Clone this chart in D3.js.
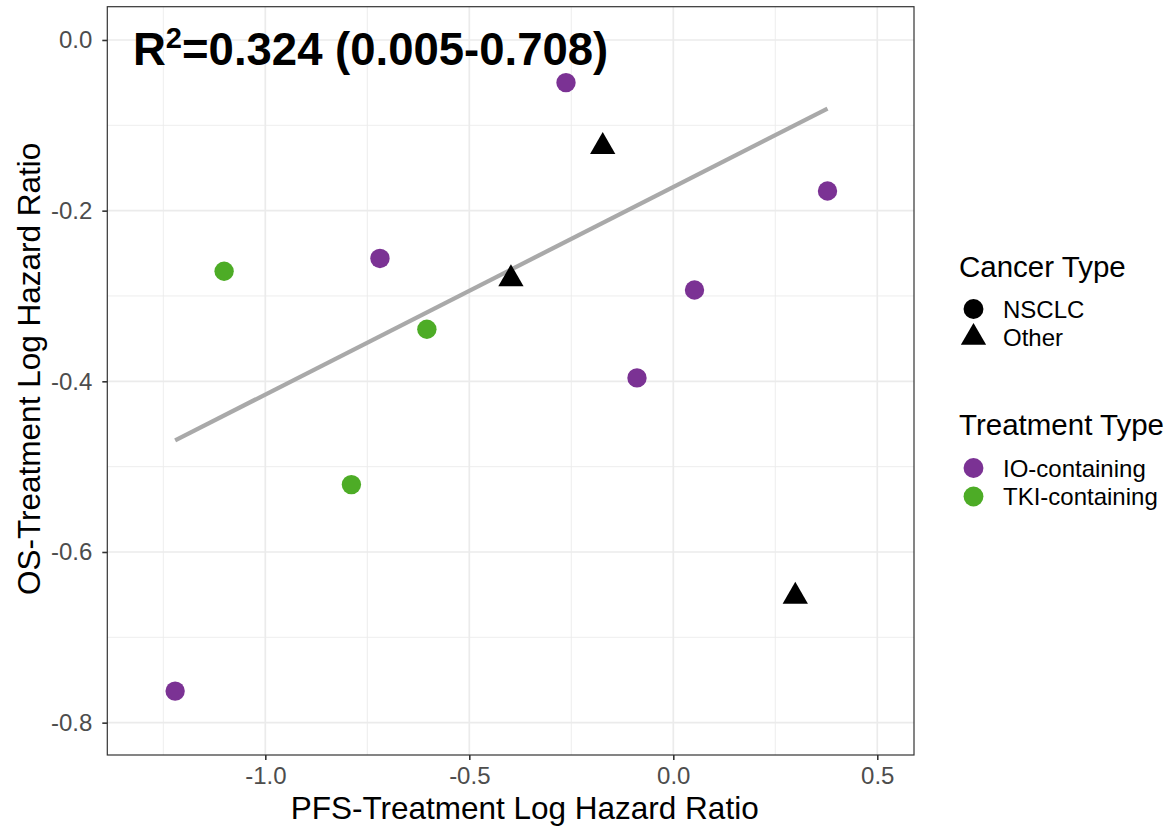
<!DOCTYPE html>
<html>
<head>
<meta charset="utf-8">
<script src="https://cdn.jsdelivr.net/npm/d3@7"></script>
<style>
  body { margin: 0; background: #fff; }
  text { font-family: "Liberation Sans", Arial, Helvetica, sans-serif; }
</style>
</head>
<body>
<svg id="chart"></svg>
<script>
(function () {
var width = 1170, height = 826

// values
var pfs = [-1.221, -1.101, -0.719, -0.604, -0.789, -0.263, -0.173, -0.398, 0.052, 0.378, -0.089, 0.299]
var os = [-0.763, -0.271, -0.256, -0.339, -0.521, -0.050, -0.125, -0.280, -0.293, -0.177, -0.396, -0.652]
var cancer = ['NSCLC', 'NSCLC', 'NSCLC', 'NSCLC', 'NSCLC', 'NSCLC', 'Other', 'Other', 'NSCLC', 'NSCLC', 'NSCLC', 'Other']
var treatment = ['IO-containing', 'TKI-containing', 'IO-containing', 'TKI-containing', 'TKI-containing', 'IO-containing', null, null, 'IO-containing', 'IO-containing', 'IO-containing', null]

var xTicks = [-1.0, -0.5, 0.0, 0.5]
var yTicks = [0.0, -0.2, -0.4, -0.6, -0.8]
var xMinor = [-1.25, -0.75, -0.25, 0.25]
var yMinor = [-0.1, -0.3, -0.5, -0.7]

// fitted line shown on the chart (weighted fit)
var fitSlope = 0.2432, fitIntercept = -0.1723
var r2Label = '0.324 (0.005-0.708)'

var cancerTypes = ['NSCLC', 'Other']
var treatmentTypes = ['IO-containing', 'TKI-containing']
var treatmentColors = ['#7b3294', '#4dac26']

var points = pfs.map((d, i) => ({x: d, y: os[i], cancer: cancer[i], treatment: treatment[i]}))

var svg = d3.select('#chart')
    .attr('width', width)
    .attr('height', height)

svg.append('rect').attr('width', width).attr('height', height).attr('fill', '#fff')

var panel = {left: 107.3, right: 914, top: 6.7, bottom: 755}
var titleSize = 31.5, legendTitleSize = 29.5, textSize = 24

var x = d3.scaleLinear().domain([-1.3873, 0.590]).range([panel.left, panel.right])
var y = d3.scaleLinear().domain([0.039, -0.8379]).range([panel.top, panel.bottom])

var color = d3.scaleOrdinal().domain(treatmentTypes).range(treatmentColors).unknown('#000')
var shape = d3.scaleOrdinal().domain(cancerTypes).range([d3.symbolCircle, d3.symbolTriangle])

var fmt = (d) => d.toFixed(1)

// grid
var grid = svg.append('g')
grid.selectAll('.xminor').data(xMinor).enter().append('line')
    .attr('x1', (d) => x(d)).attr('x2', (d) => x(d))
    .attr('y1', panel.top).attr('y2', panel.bottom)
    .attr('stroke', '#ebebeb').attr('stroke-width', 0.9)
grid.selectAll('.yminor').data(yMinor).enter().append('line')
    .attr('y1', (d) => y(d)).attr('y2', (d) => y(d))
    .attr('x1', panel.left).attr('x2', panel.right)
    .attr('stroke', '#ebebeb').attr('stroke-width', 0.9)
grid.selectAll('.xmajor').data(xTicks).enter().append('line')
    .attr('x1', (d) => x(d)).attr('x2', (d) => x(d))
    .attr('y1', panel.top).attr('y2', panel.bottom)
    .attr('stroke', '#ebebeb').attr('stroke-width', 1.7)
grid.selectAll('.ymajor').data(yTicks).enter().append('line')
    .attr('y1', (d) => y(d)).attr('y2', (d) => y(d))
    .attr('x1', panel.left).attr('x2', panel.right)
    .attr('stroke', '#ebebeb').attr('stroke-width', 1.7)

// fit line over the data range
var xr = d3.extent(pfs)
svg.append('line')
    .attr('x1', x(xr[0])).attr('y1', y(fitIntercept + fitSlope * xr[0]))
    .attr('x2', x(xr[1])).attr('y2', y(fitIntercept + fitSlope * xr[1]))
    .attr('stroke', '#a9a9a9').attr('stroke-width', 4.3)

// points
svg.append('g').selectAll('path').data(points).enter().append('path')
    .attr('transform', (d) => 'translate(' + x(d.x) + ',' + y(d.y) + ')')
    .attr('d', (d) => d3.symbol().type(shape(d.cancer)).size(d.cancer == 'Other' ? 277 : 295)())
    .attr('fill', (d) => color(d.treatment))

// panel border
svg.append('rect')
    .attr('x', panel.left).attr('y', panel.top)
    .attr('width', panel.right - panel.left).attr('height', panel.bottom - panel.top)
    .attr('fill', 'none').attr('stroke', '#333').attr('stroke-width', 1.2)

// axes
var xAxis = svg.append('g')
    .attr('transform', 'translate(0,' + panel.bottom + ')')
    .call(d3.axisBottom(x).tickValues(xTicks).tickFormat(fmt).tickSize(5).tickPadding(7))
var yAxis = svg.append('g')
    .attr('transform', 'translate(' + panel.left + ',0)')
    .call(d3.axisLeft(y).tickValues(yTicks).tickFormat(fmt).tickSize(5).tickPadding(10))
;[xAxis, yAxis].forEach(function (a) {
    a.select('.domain').remove()
    a.selectAll('line').attr('stroke', '#333').attr('stroke-width', 1.6)
    a.selectAll('text').attr('fill', '#4d4d4d').style('font-size', textSize + 'px')
        .style('font-family', '"Liberation Sans", Arial, sans-serif')
})

// axis titles
svg.append('text')
    .attr('x', (panel.left + panel.right) / 2 + 14).attr('y', 819)
    .attr('text-anchor', 'middle').style('font-size', titleSize + 'px').attr('fill', '#000')
    .text('PFS-Treatment Log Hazard Ratio')
svg.append('text')
    .attr('transform', 'translate(40,' + ((panel.top + panel.bottom) / 2 - 12) + ') rotate(-90)')
    .attr('text-anchor', 'middle').style('font-size', titleSize + 'px').attr('fill', '#000')
    .text('OS-Treatment Log Hazard Ratio')

// R squared label
var r2 = svg.append('text')
    .attr('x', 133).attr('y', 65)
    .style('font-size', '45.5px').style('font-weight', 'bold').attr('fill', '#000')
r2.append('tspan').text('R')
r2.append('tspan').attr('dy', -17).style('font-size', '29px').text('2')
r2.append('tspan').attr('dy', 17).text('=' + r2Label)

// legends
var leg = svg.append('g').attr('transform', 'translate(959,0)')
leg.append('text').attr('x', 0).attr('y', 277).style('font-size', legendTitleSize + 'px').text('Cancer Type')
var lc = leg.selectAll('.lc').data(cancerTypes).enter().append('g')
    .attr('transform', (d, i) => 'translate(0,' + (309 + i * 28.5) + ')')
lc.append('path')
    .attr('transform', 'translate(14.5,0)')
    .attr('d', (d) => d3.symbol().type(shape(d)).size(d == 'Other' ? 277 : 310)())
    .attr('fill', '#000')
lc.append('text').attr('x', 44).attr('y', 0).attr('dy', '0.36em').style('font-size', textSize + 'px').text((d) => d)

leg.append('text').attr('x', 0).attr('y', 435).style('font-size', legendTitleSize + 'px').text('Treatment Type')
var lt = leg.selectAll('.lt').data(treatmentTypes).enter().append('g')
    .attr('transform', (d, i) => 'translate(0,' + (468 + i * 28.5) + ')')
lt.append('path')
    .attr('transform', 'translate(14.5,0)')
    .attr('d', d3.symbol().type(d3.symbolCircle).size(310)())
    .attr('fill', (d) => color(d))
lt.append('text').attr('x', 44).attr('y', 0).attr('dy', '0.36em').style('font-size', textSize + 'px').text((d) => d)
})();
</script>
</body>
</html>
